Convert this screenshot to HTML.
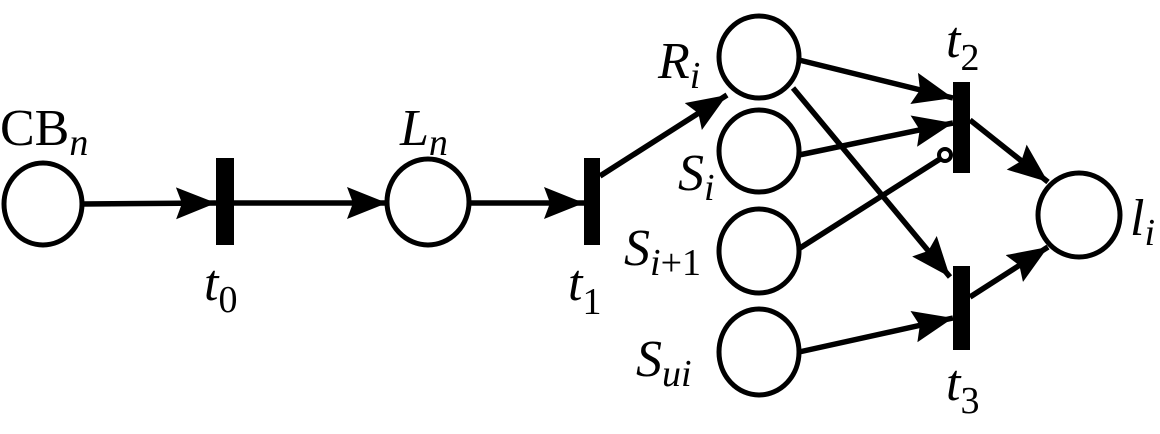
<!DOCTYPE html>
<html><head><meta charset="utf-8"><style>
html,body{margin:0;padding:0;background:#fff;}
svg{display:block;}
svg text{font-family:'Liberation Serif','DejaVu Serif','Times New Roman',serif;fill:#000;}
.it{font-style:italic;}
</style></head><body>
<svg width="1160" height="434" viewBox="0 0 1160 434" xmlns="http://www.w3.org/2000/svg" font-family="Liberation Serif, DejaVu Serif, serif">
<defs>
<marker id="a" markerUnits="userSpaceOnUse" markerWidth="42" markerHeight="34" refX="40" refY="16" orient="auto">
<path d="M0,0 L40,16 L0,32 L6,16 Z" fill="#000"/>
</marker>
</defs>
<g fill="none" stroke="#000" stroke-width="5">
<ellipse cx="43" cy="204" rx="39" ry="41"/>
<ellipse cx="428" cy="202" rx="41" ry="43"/>
<ellipse cx="759" cy="57" rx="40" ry="41"/>
<ellipse cx="759" cy="151" rx="40" ry="41"/>
<ellipse cx="759" cy="251" rx="40" ry="42"/>
<ellipse cx="759" cy="352" rx="40" ry="43"/>
<ellipse cx="1079" cy="215" rx="41" ry="42"/>
</g>
<g fill="#000">
<rect x="216" y="158" width="18" height="87"/>
<rect x="584" y="158" width="16" height="87"/>
<rect x="953" y="82" width="17" height="91"/>
<rect x="953" y="266" width="17" height="84"/>
</g>
<g stroke="#000" stroke-width="5.5" fill="none" marker-end="url(#a)">
<line x1="82" y1="204" x2="216" y2="203"/>
<line x1="234" y1="203" x2="387" y2="203"/>
<line x1="469" y1="203" x2="584" y2="203"/>
<line x1="600" y1="176" x2="727" y2="95"/>
<line x1="799" y1="60" x2="953" y2="98"/>
<line x1="799" y1="155" x2="953" y2="123"/>
<line x1="793" y1="88" x2="950" y2="277"/>
<line x1="799" y1="352" x2="953" y2="318"/>
<line x1="970" y1="120" x2="1048" y2="182"/>
<line x1="970" y1="297" x2="1048" y2="247"/>
</g>
<line x1="800" y1="248" x2="940" y2="159" stroke="#000" stroke-width="5.5"/>
<circle cx="945" cy="155" r="6" fill="#fff" stroke="#000" stroke-width="4"/>
<text x="0" y="145" font-size="52">CB<tspan class="it" font-size="38" dy="10">n</tspan></text>
<text x="400" y="145" font-size="52" class="it">L<tspan font-size="38" dy="10">n</tspan></text>
<text x="204" y="300" font-size="52" class="it">t<tspan font-size="38" dy="12" style="font-style:normal">0</tspan></text>
<text x="568" y="300" font-size="52" class="it">t<tspan font-size="38" dy="14" style="font-style:normal">1</tspan></text>
<text x="658" y="78" font-size="52" class="it">R<tspan font-size="38" dy="10">i</tspan></text>
<text x="678" y="190" font-size="52" class="it">S<tspan font-size="38" dy="10">i</tspan></text>
<text x="624" y="265" font-size="52" class="it">S<tspan font-size="38" dy="10">i<tspan style="font-style:normal">+1</tspan></tspan></text>
<text x="636" y="376" font-size="52" class="it">S<tspan font-size="38" dy="10">ui</tspan></text>
<text x="946" y="57" font-size="52" class="it">t<tspan font-size="38" dy="13" style="font-style:normal">2</tspan></text>
<text x="946" y="400" font-size="52" class="it">t<tspan font-size="38" dy="13" style="font-style:normal">3</tspan></text>
<text x="1130" y="235" font-size="52" class="it">l<tspan font-size="38" dy="10">i</tspan></text>
</svg>
</body></html>
